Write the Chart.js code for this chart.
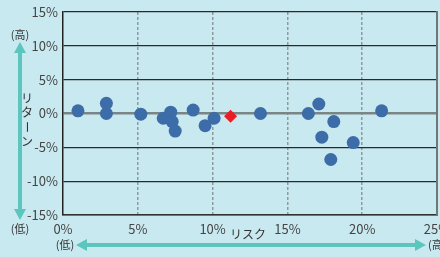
<!DOCTYPE html>
<html>
<head>
<meta charset="utf-8">
<script src="https://cdn.jsdelivr.net/npm/chart.js@4"></script>
<style>
  html, body { margin: 0; padding: 0; background: #c9e9f0; }
  #wrap { width: 440px; height: 257px; }
</style>
</head>
<body>
<div id="wrap"><canvas id="risk-chart"></canvas></div>
<script>
// funds: risk (%) / return (%)
const fundRisk = [1.0, 2.9, 2.9, 5.2, 6.7, 7.2, 7.3, 7.5, 8.7, 9.5, 10.1, 13.2, 16.4, 17.1, 18.1, 17.3, 19.4, 17.9, 21.3];
const fundReturn = [0.4, 1.5, 0.0, -0.1, -0.7, 0.2, -1.2, -2.6, 0.5, -1.8, -0.7, 0.0, 0.0, 1.4, -1.2, -3.5, -4.3, -6.8, 0.4];
// highlighted fund
const markRisk = [11.2];
const markReturn = [-0.4];

const xTicks = [0, 5, 10, 15, 20, 25];
const yTicks = [-15, -10, -5, 0, 5, 10, 15];

const bg = '#c9e9f0';
const teal = '#5cc5bd';
const jpFont = '"Noto Sans CJK JP", sans-serif';
const numFont = '"Liberation Sans Narrow", "Noto Sans CJK JP", sans-serif';

const decoPlugin = {
    id: 'deco',
    beforeDraw(chart) {
        const c = chart.ctx;
        c.save();
        c.fillStyle = bg;
        c.fillRect(0, 0, chart.width, chart.height);
        c.restore();
    },
    afterDraw(chart) {
        const c = chart.ctx;
        c.save();
        c.fillStyle = teal;
        c.strokeStyle = teal;
        // vertical arrow
        c.lineWidth = 4;
        c.beginPath();
        c.moveTo(20, 50);
        c.lineTo(20, 212);
        c.stroke();
        c.beginPath();
        c.moveTo(20, 42); c.lineTo(14, 53); c.lineTo(26, 53); c.closePath(); c.fill();
        c.beginPath();
        c.moveTo(20, 220); c.lineTo(14, 209); c.lineTo(26, 209); c.closePath(); c.fill();
        // horizontal arrow
        c.beginPath();
        c.moveTo(84, 245);
        c.lineTo(418, 245);
        c.stroke();
        c.beginPath();
        c.moveTo(76, 245); c.lineTo(87, 239); c.lineTo(87, 251); c.closePath(); c.fill();
        c.beginPath();
        c.moveTo(426, 245); c.lineTo(415, 239); c.lineTo(415, 251); c.closePath(); c.fill();

        c.fillStyle = '#333';
        c.font = '11px ' + jpFont;
        c.textAlign = 'center';
        c.textBaseline = 'middle';
        c.fillText('(高)', 20, 35);
        c.fillText('(低)', 20, 229);
        c.fillText('(低)', 65, 245);
        c.textAlign = 'left';
        c.fillText('(高)', 428, 245);
        c.textAlign = 'center';
        c.font = '12px ' + jpFont;
        c.fillText('リスク', 248, 234);
        // vertical label
        const chars = ['リ', 'タ', 'ー', 'ン'];
        chars.forEach((ch, i) => {
            const y = 98 + i * 14.5;
            if (ch === 'ー') {
                c.save();
                c.translate(27, y);
                c.rotate(Math.PI / 2);
                c.fillText(ch, 0, 0);
                c.restore();
            } else {
                c.fillText(ch, 27, y);
            }
        });
        c.restore();
    }
};

const ctx = document.getElementById('risk-chart').getContext('2d');
const chart = new Chart(ctx, {
    type: 'scatter',
    data: {
        datasets: [{
            label: 'mark',
            data: markRisk.map((r, i) => ({ x: r, y: markReturn[i] })),
            pointStyle: 'rectRot',
            pointRadius: 6.5,
            backgroundColor: '#ea1c24',
            borderWidth: 0
        }, {
            label: 'funds',
            data: fundRisk.map((r, i) => ({ x: r, y: fundReturn[i] })),
            pointRadius: 6.5,
            backgroundColor: '#3d6da8',
            borderWidth: 0
        }]
    },
    options: {
        responsive: true,
        maintainAspectRatio: false,
        animation: false,
        layout: { autoPadding: false, padding: { top: 12, right: 3, left: 0, bottom: 0 } },
        plugins: {
            legend: { display: false },
            tooltip: { enabled: false }
        },
        scales: {
            x: {
                type: 'linear',
                min: 0,
                max: 25,
                afterBuildTicks: scale => { scale.ticks = xTicks.map(v => ({ value: v })); },
                afterFit: scale => {
                    scale.height = 42;
                    scale.paddingLeft = 0;
                    scale.paddingRight = 0;
                },
                ticks: {
                    padding: 6,
                    color: '#444',
                    font: { family: numFont, size: 13 },
                    maxRotation: 0,
                    callback: v => v + '%'
                },
                grid: {
                    drawTicks: false,
                    color: c => (c.tick && (c.tick.value === 0 || c.tick.value === 25)) ? 'rgba(0,0,0,0)' : '#8f9a9c',
                    lineWidth: 1.5
                },
                border: { color: '#333', width: 1.5, dash: [3, 2] }
            },
            y: {
                type: 'linear',
                min: -15,
                max: 15,
                afterBuildTicks: scale => { scale.ticks = yTicks.map(v => ({ value: v })); },
                afterFit: scale => {
                    scale.width = 63;
                    scale.paddingTop = 0;
                    scale.paddingBottom = 0;
                },
                ticks: {
                    padding: 5,
                    color: '#444',
                    font: { family: numFont, size: 13 },
                    callback: v => v + '%'
                },
                grid: {
                    drawTicks: false,
                    color: c => (c.tick && c.tick.value === 0) ? '#7a8686' : '#2a2a2a',
                    lineWidth: c => (c.tick && c.tick.value === 0) ? 2.5 : 1.2
                },
                border: { color: '#222', width: 1.5 }
            },
            yRight: {
                type: 'linear',
                position: 'right',
                min: -15,
                max: 15,
                afterFit: scale => { scale.width = 0; },
                ticks: { display: false },
                grid: { drawOnChartArea: false, drawTicks: false },
                border: { color: '#6f7777', width: 2 }
            }
        }
    },
    plugins: [decoPlugin]
});
</script>
</body>
</html>
